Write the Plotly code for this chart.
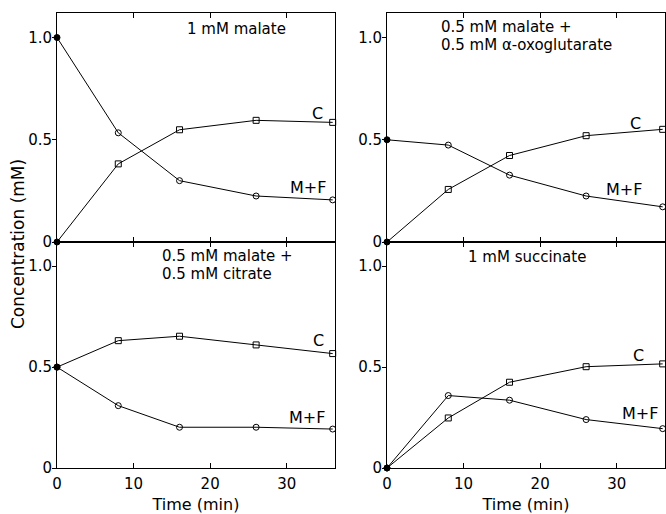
import plotly.graph_objects as go

time = [0, 8, 16, 26, 36]

titles = [
    ["1 mM malate"],
    ["0.5 mM malate +", "0.5 mM α-oxoglutarate"],
    ["0.5 mM malate +", "0.5 mM citrate"],
    ["1 mM succinate"],
]

mf_1 = [1.0, 0.534, 0.30, 0.225, 0.206]
c_1 = [0.0, 0.382, 0.549, 0.595, 0.585]
mf_2 = [0.5, 0.474, 0.327, 0.225, 0.172]
c_2 = [0.0, 0.257, 0.423, 0.52, 0.551]
mf_3 = [0.5, 0.309, 0.202, 0.202, 0.193]
c_3 = [0.5, 0.631, 0.653, 0.61, 0.567]
mf_4 = [0.0, 0.359, 0.336, 0.24, 0.195]
c_4 = [0.0, 0.248, 0.425, 0.502, 0.516]

mf_series = [mf_1, mf_2, mf_3, mf_4]
c_series = [c_1, c_2, c_3, c_4]

# label positions (data coords)
c_label_pos = [(34.0, 0.63), (32.4, 0.58), (34.1, 0.63), (32.8, 0.56)]
mf_label_pos = [(32.8, 0.265), (30.9, 0.255), (32.6, 0.25), (33.0, 0.27)]
# title anchor: x, y of first line, alignment
title_pos = [(23.5, 1.04, "center"), (6.8, 1.05, "left"), (13.4, 1.05, "left"), (18.3, 1.045, "center")]
line_step = 0.088

x_ticks = [0, 10, 20, 30]
y_ticks = [0, 0.5, 1.0]
y_ticktext = ["0", "0.5", "1.0"]

FONT = "DejaVu Sans"
W, H = 666, 514


def px_x(p):
    return p / W


def px_y(p):
    return 1 - p / H


fig = go.Figure()

xdomains = [[px_x(57), px_x(335)], [px_x(387), px_x(665)], [px_x(57), px_x(335)], [px_x(387), px_x(665)]]
ydomains = [[px_y(242), px_y(13)], [px_y(242), px_y(13)],
            [px_y(468), px_y(242)], [px_y(468), px_y(242)]]

for i in range(4):
    xa = "x" if i == 0 else f"x{i+1}"
    ya = "y" if i == 0 else f"y{i+1}"
    fig.add_trace(go.Scatter(
        x=time, y=mf_series[i], xaxis=xa, yaxis=ya, mode="lines+markers",
        line=dict(color="black", width=1),
        marker=dict(symbol=["circle"] + ["circle-open"] * 4, size=6, color="black",
                    line=dict(width=1, color="black")),
        showlegend=False, cliponaxis=False))
    fig.add_trace(go.Scatter(
        x=time, y=c_series[i], xaxis=xa, yaxis=ya, mode="lines+markers",
        line=dict(color="black", width=1),
        marker=dict(symbol=["circle"] + ["square-open"] * 4, size=6, color="black",
                    line=dict(width=1, color="black")),
        showlegend=False, cliponaxis=False))

    bottom = i >= 2
    base = dict(linecolor="black", linewidth=1, tickcolor="black", showgrid=False,
                zeroline=False, automargin=False,
                tickfont=dict(family=FONT, size=15, color="black"))
    xkey = "xaxis" if i == 0 else f"xaxis{i+1}"
    ykey = "yaxis" if i == 0 else f"yaxis{i+1}"
    fig.layout[xkey] = dict(
        domain=xdomains[i], anchor=ya, range=[0, 36.3],
        tickvals=x_ticks, showticklabels=bottom, showline=True, mirror="ticks",
        ticks="inside", ticklen=5, ticklabelstandoff=2,
        title=dict(text="Time (min)" if bottom else "", font=dict(family=FONT, size=16, color="black"), standoff=6),
        **base)
    fig.layout[ykey] = dict(
        domain=ydomains[i], anchor=xa, range=[0, 1.12],
        tickvals=y_ticks, ticktext=y_ticktext, showline=True, mirror=True,
        ticks="outside", ticklen=4, ticklabelstandoff=-3,
        **base)
    # right-side inward ticks
    rkey = f"yaxis{i+5}"
    fig.layout[rkey] = dict(
        domain=ydomains[i], anchor=xa, overlaying=ya, side="right", range=[0, 1.12],
        tickvals=[0.5, 1.0], showticklabels=False, showline=False,
        ticks="inside", ticklen=4, **base)

    tx, ty, al = title_pos[i]
    for k, line in enumerate(titles[i]):
        fig.add_annotation(x=tx, y=ty - k * line_step, xref=xa, yref=ya, text=line, showarrow=False,
                           xanchor=al, yanchor="middle", align=al,
                           font=dict(family=FONT, size=15, color="black"))
    fig.add_annotation(x=c_label_pos[i][0], y=c_label_pos[i][1], xref=xa, yref=ya, text="C",
                       showarrow=False, font=dict(family=FONT, size=16, color="black"))
    fig.add_annotation(x=mf_label_pos[i][0], y=mf_label_pos[i][1], xref=xa, yref=ya, text="M+F",
                       showarrow=False, font=dict(family=FONT, size=16, color="black"))

fig.add_annotation(x=px_x(18), y=px_y(244), xref="paper", yref="paper",
                   xanchor="center", yanchor="middle",
                   text="Concentration (mM)", textangle=-90, showarrow=False,
                   font=dict(family=FONT, size=17, color="black"))

fig.update_layout(width=W, height=H, margin=dict(l=0, r=0, t=0, b=0, autoexpand=False),
                  paper_bgcolor="white", plot_bgcolor="white")

fig.write_html("out.html", config={"displayModeBar": False},
               post_script="document.body.style.margin='0';document.body.style.overflow='hidden';")
